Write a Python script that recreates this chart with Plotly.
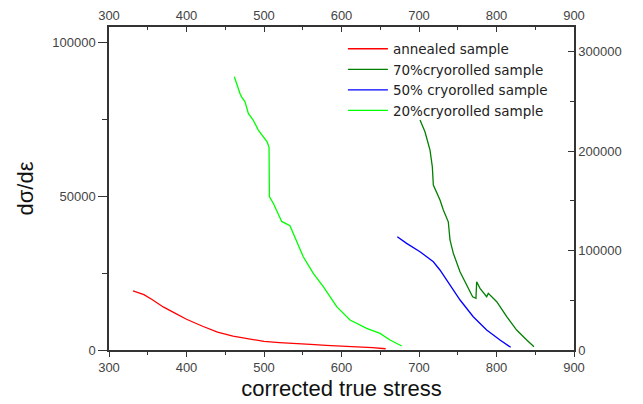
import plotly.graph_objects as go

# annealed sample (left axis)
ann_x = [331, 345, 355, 370, 385, 400, 420, 440, 460, 480, 500, 520, 540, 560, 580, 600, 620, 640, 657]
ann_y = [19200, 18000, 16500, 14000, 12000, 10000, 7800, 5800, 4500, 3700, 2800, 2400, 2000, 1800, 1500, 1300, 1100, 800, 400]

# 20% cryorolled sample (left axis)
c20_x = [461.7, 465, 469, 471, 475.5, 479.8, 486, 492.7, 499, 504, 506.5, 507, 512, 517, 522.8, 533.5, 541, 550.7,
         563.6, 576.5, 593.8, 611, 632.5, 649.7, 662.6, 677.7]
c20_y = [88800, 86000, 83400, 82300, 80700, 76900, 74750, 71500, 69300, 67700, 65900, 49800, 47700, 45000, 41800,
         40400, 35800, 30300, 24900, 20600, 14100, 9750, 7050, 5400, 3250, 1300]

# 70% cryorolled sample (right axis)
c70_x = [701.3, 707.7, 714.2, 717.2, 718.5, 727.1, 731.4, 737.8, 740, 744.3, 752.9, 761.5, 769.2, 773.5, 774.4,
         778.7, 787.3, 789.4, 793.8, 800.3, 813.2, 826, 839, 848.4]
c70_y = [231400, 219600, 201200, 184400, 166000, 150900, 140800, 129000, 110700, 97300, 78800, 65400, 53600, 52000,
         68700, 62000, 53600, 57000, 53600, 48600, 33500, 20100, 10100, 3300]

# 50% cryorolled sample (right axis)
c50_x = [672, 684, 701.3, 718.5, 727, 740, 753, 770, 787.3, 804.5, 818.3]
c50_y = [114000, 107300, 98900, 88800, 80500, 65400, 50300, 33500, 20100, 10100, 2700]

fig = go.Figure()
fig.add_trace(go.Scatter(x=ann_x, y=ann_y, mode="lines", name="annealed sample",
                         line=dict(color="#ff0000", width=1.3)))
fig.add_trace(go.Scatter(x=c70_x, y=c70_y, mode="lines", name="70%cryorolled sample",
                         line=dict(color="#008000", width=1.3), xaxis="x2", yaxis="y2"))
fig.add_trace(go.Scatter(x=c50_x, y=c50_y, mode="lines", name="50% cryorolled sample",
                         line=dict(color="#0000ff", width=1.3), xaxis="x2", yaxis="y2"))
fig.add_trace(go.Scatter(x=c20_x, y=c20_y, mode="lines", name="20%cryorolled sample",
                         line=dict(color="#00ff00", width=1.3)))

tickfont = dict(family="Liberation Sans, Arial", size=13, color="#444444")
common = dict(showgrid=False, zeroline=False, showline=True, linecolor="#333333", linewidth=1.5,
              tickcolor="#333333", tickfont=tickfont, tickformat="d", automargin=False)

fig.update_layout(
    width=643, height=404,
    margin=dict(l=109, r=69, t=27, b=54),
    paper_bgcolor="white", plot_bgcolor="white",
    font=dict(family="Liberation Sans, Arial", color="#222222"),
    xaxis=dict(range=[300, 900], dtick=100, ticks="outside", ticklen=5,
               minor=dict(dtick=50, ticks="outside", ticklen=3, tickcolor="#333333"),
               title=dict(text="corrected true stress", font=dict(size=22, color="#111111"), standoff=6),
               **common),
    xaxis2=dict(range=[300, 900], dtick=100, ticks="inside", ticklen=5, overlaying="x", side="top", anchor="y2",
                minor=dict(dtick=50, ticks="inside", ticklen=3, tickcolor="#333333"),
                **common),
    yaxis=dict(range=[0, 105000], dtick=50000, ticks="outside", ticklen=9,
               minor=dict(dtick=25000, ticks="outside", ticklen=5, tickcolor="#333333"),
               title=dict(text="dσ/dε", font=dict(size=22, color="#111111"), standoff=13),
               **common),
    yaxis2=dict(range=[0, 325000], dtick=100000, ticks="inside", ticklen=6, overlaying="y", side="right", anchor="x2",
                minor=dict(dtick=50000, ticks="inside", ticklen=4, tickcolor="#333333"),
                **common),
    showlegend=True,
    legend=dict(x=0.503, y=0.98, xanchor="left", yanchor="top", bgcolor="rgba(0,0,0,0)",
                font=dict(family="DejaVu Sans", size=13.5, color="#222222"),
                itemwidth=40, tracegroupgap=0),
)

fig.write_html("out.html")
